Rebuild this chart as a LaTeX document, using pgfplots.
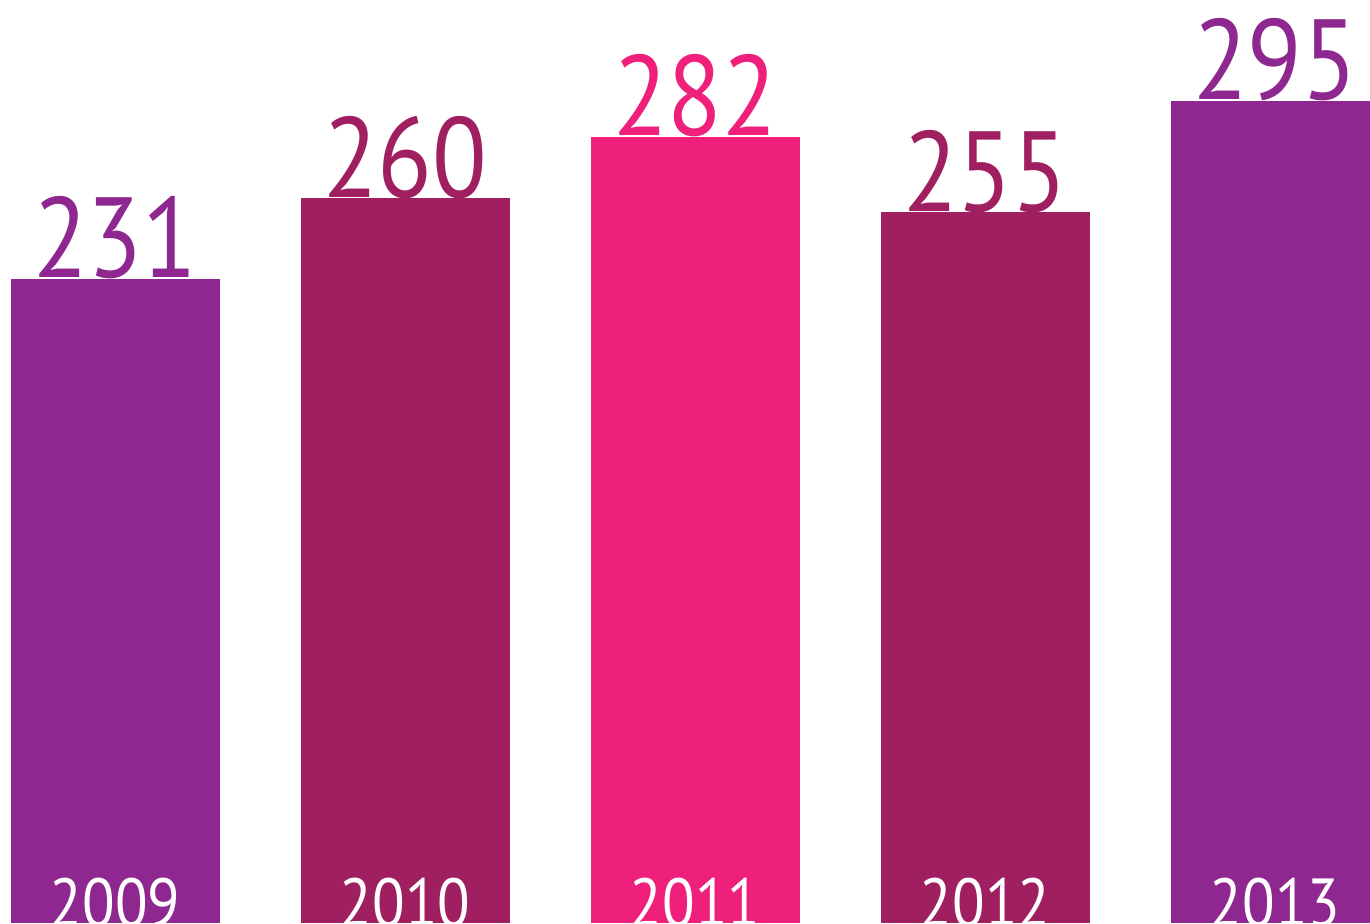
\documentclass[border=0pt]{standalone}
\usepackage{pgfplots}
\pgfplotsset{compat=1.18}
\usepackage{fontspec}
\setmainfont{PT Sans}[FakeStretch=0.88]
\definecolor{cpurple}{HTML}{8E278F}
\definecolor{cwine}{HTML}{A01F60}
\definecolor{cpink}{HTML}{EE207B}
\begin{document}
\begin{tikzpicture}
\begin{axis}[
  width=685pt, height=461.5pt, scale only axis,
  hide axis,
  xmin=2008.6034, xmax=2013.3276,
  ymin=0, ymax=331.06,
  ybar, bar width=104.5pt,
  /pgf/number format/assume math mode=true,
  nodes near coords,
  every node near coord/.append style={anchor=base, yshift=0.5pt, inner sep=0pt, font=\fontsize{57}{60}\selectfont},
]
\addplot[fill=cpurple, draw=none, bar shift=0pt, every node near coord/.append style={text=cpurple}] coordinates {(2009,231)};
\addplot[fill=cwine, draw=none, bar shift=0pt, every node near coord/.append style={text=cwine}] coordinates {(2010,260)};
\addplot[fill=cpink, draw=none, bar shift=0pt, every node near coord/.append style={text=cpink}] coordinates {(2011,282)};
\addplot[fill=cwine, draw=none, bar shift=0pt, every node near coord/.append style={text=cwine}] coordinates {(2012,255)};
\addplot[fill=cpurple, draw=none, bar shift=0pt, every node near coord/.append style={text=cpurple}] coordinates {(2013,295)};
\addplot[draw=none, fill=none, bar shift=0pt, point meta=explicit symbolic,
  every node near coord/.append style={text=white, yshift=-2pt, font=\fontsize{34}{36}\selectfont}]
  table[meta=lab] {
x y lab
2009 0 2009
2010 0 2010
2011 0 2011
2012 0 2012
2013 0 2013
};
\end{axis}
\pgfresetboundingbox
\path[use as bounding box] (current axis.south west) rectangle (current axis.north east);
\end{tikzpicture}
\end{document}
